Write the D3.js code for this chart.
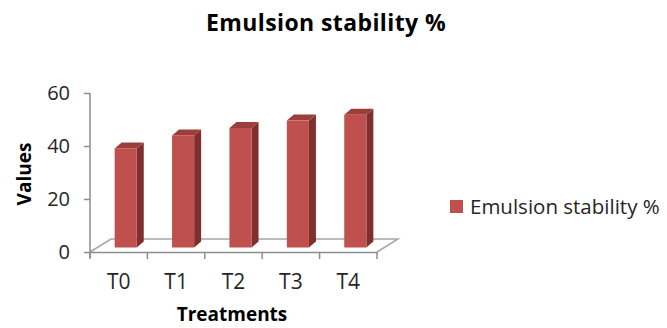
<!DOCTYPE html>
<html>
<head>
<meta charset="utf-8">
<script src="https://cdn.jsdelivr.net/npm/d3@7"></script>
<style>
  html, body { margin: 0; padding: 0; background: #fff; }
  svg { display: block; font-family: "Open Sans", sans-serif; }
</style>
</head>
<body>
<svg id="chart" width="667" height="328"></svg>
<script>
// Data
const categories = ["T0", "T1", "T2", "T3", "T4"];
const seriesName = "Emulsion stability %";
const values = [37.4, 42.3, 45.1, 47.9, 50.1];
const yTicks = [0, 20, 40, 60];

const svg = d3.select("#chart");

// Plot frame (front plane of the 3D floor)
const x0 = 90, x1 = 377, yBase = 252, yTop = 93;
const floorDx = 21, floorDy = -13;   // depth of the floor
const barDx = 7, barDy = -6;         // depth of each column
const barShiftX = 7, barShiftY = -4.5; // columns sit part-way back on the floor

const x = d3.scaleBand().domain(categories).range([x0, x1]).paddingInner(0).paddingOuter(0);
const y = d3.scaleLinear().domain([0, 60]).range([yBase, yTop]);

const barW = x.step() * 0.385;

// Floor outline
const floorColor = "#a6a6a6";
svg.append("path")
  .attr("d", `M${x0},${yBase} L${x0 + floorDx},${yBase + floorDy} L${x1 + floorDx},${yBase + floorDy} L${x1},${yBase}`)
  .attr("fill", "none")
  .attr("stroke", floorColor)
  .attr("stroke-width", 1.5);

// Columns
const frontColor = "#c0504d", topColor = "#9c3e3b", sideColor = "#7f302e";
const bars = svg.append("g").selectAll("g").data(values).join("g");

bars.each(function (v, i) {
  const g = d3.select(this);
  const xl = x(categories[i]) + x.bandwidth() / 2 - barW / 2 + barShiftX;
  const xr = xl + barW;
  const yb = y(0) + barShiftY;
  const yt = y(v) + barShiftY;
  // side face
  g.append("path")
    .attr("d", `M${xr},${yb} L${xr + barDx},${yb + barDy} L${xr + barDx},${yt + barDy} L${xr},${yt} Z`)
    .attr("fill", sideColor);
  // top face
  g.append("path")
    .attr("d", `M${xl},${yt} L${xl + barDx},${yt + barDy} L${xr + barDx},${yt + barDy} L${xr},${yt} Z`)
    .attr("fill", topColor);
  // front face
  g.append("rect")
    .attr("x", xl).attr("y", yt)
    .attr("width", barW).attr("height", yb - yt)
    .attr("fill", frontColor);
});

// Value axis
const axisColor = "#8c8c8c";
const yAxis = d3.axisLeft(y).tickValues(yTicks).tickSize(6).tickPadding(14).tickFormat(d3.format("d"));
const gy = svg.append("g").attr("transform", `translate(${x0},0)`).call(yAxis);
gy.select(".domain").attr("stroke", axisColor).attr("stroke-width", 1.5).attr("d", `M0,${yTop}V${yBase + 6}`);
gy.selectAll(".tick line").attr("stroke", axisColor).attr("stroke-width", 1.5);
gy.selectAll(".tick text")
  .attr("fill", "#262626")
  .style("font-family", "'Open Sans', sans-serif")
  .style("font-size", "20px");

// Category axis
const xAxis = d3.axisBottom(x).tickSize(0).tickPadding(22);
const gx = svg.append("g").attr("transform", `translate(0,${yBase})`).call(xAxis);
gx.select(".domain").attr("stroke", axisColor).attr("stroke-width", 1.5);
gx.selectAll(".tick text")
  .attr("fill", "#262626")
  .style("font-family", "'Open Sans', sans-serif")
  .style("font-size", "21px");
// Category boundary ticks
gx.append("g").selectAll("line")
  .data(d3.range(categories.length + 1))
  .join("line")
  .attr("x1", i => x0 + i * x.step())
  .attr("x2", i => x0 + i * x.step())
  .attr("y1", 0).attr("y2", 7)
  .attr("stroke", axisColor).attr("stroke-width", 1.5);

// Title
svg.append("text")
  .attr("x", 326).attr("y", 31)
  .attr("text-anchor", "middle")
  .style("font-size", "23px").style("font-weight", "bold")
  .style("letter-spacing", "0.4px")
  .attr("fill", "#000")
  .text("Emulsion stability %");

// Axis titles
svg.append("text")
  .attr("transform", "translate(31,174) rotate(-90)")
  .attr("text-anchor", "middle")
  .style("font-size", "19px").style("font-weight", "bold")
  .attr("fill", "#000")
  .text("Values");

svg.append("text")
  .attr("x", 232).attr("y", 321)
  .attr("text-anchor", "middle")
  .style("font-size", "19px").style("font-weight", "bold")
  .attr("fill", "#000")
  .text("Treatments");

// Legend
const legend = svg.append("g").attr("transform", "translate(450,200)");
legend.append("rect").attr("width", 13).attr("height", 13).attr("fill", frontColor);
legend.append("text")
  .attr("x", 20).attr("y", 14)
  .style("font-size", "20.5px")
  .attr("fill", "#262626")
  .text(seriesName);
</script>
</body>
</html>
